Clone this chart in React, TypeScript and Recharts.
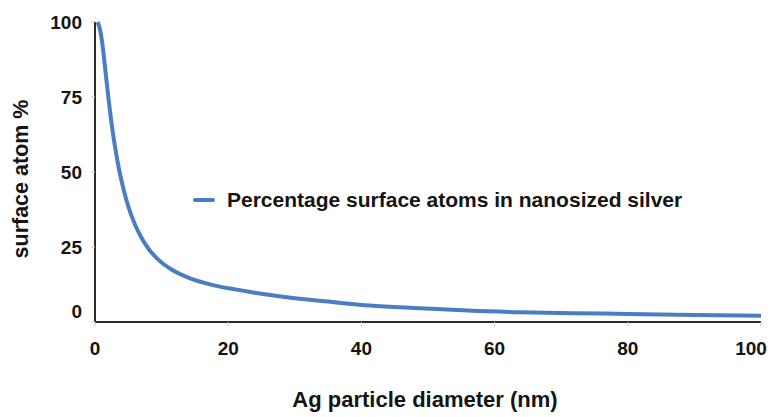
import React from "react";
import { LineChart, Line, XAxis, YAxis } from "recharts";

// Particle diameter (nm) and the matching share of atoms sitting on the surface (%)
const diameters = [0.4, 0.8, 1.2, 1.6, 2, 2.5, 3, 3.6, 4.2, 5, 6, 7, 8, 9.5, 11.5, 14, 17.7, 21.5, 25, 30, 35, 41.3, 48.8, 56, 63.8, 72, 80, 90, 100];
const surfacePct = [100, 97, 91, 83, 75, 66, 58.5, 51, 45, 38.5, 32.5, 28, 24.5, 20.8, 17.5, 14.8, 12.3, 10.7, 9.4, 7.9, 6.8, 5.5, 4.6, 3.8, 3.25, 2.95, 2.7, 2.35, 2.05];

const xTicks = [0, 20, 40, 60, 80, 100];
const yTicks = [0, 25, 50, 75, 100];

const seriesName = "Percentage surface atoms in nanosized silver";
const xTitle = "Ag particle diameter (nm)";
const yTitle = "surface atom %";

const data = diameters.map((d, i) => ({ d, pct: surfacePct[i] }));

const FONT = "'Liberation Sans', Arial, sans-serif";
const TEXT = "#141414";
const BLUE = "#4a7dc4";

const tickStyle = { fontFamily: FONT, fontWeight: 700, fontSize: 19, fill: TEXT };
const titleStyle = { fontFamily: FONT, fontWeight: 700, fontSize: 21.5, fill: TEXT };
const xTitleStyle = { ...titleStyle, fontSize: 22 };

// The last x label is pulled inward so it stays inside the frame
const XTick = ({ x, y, payload }: any) => (
  <text x={payload.value === 100 ? x - 9 : x} y={y} dy="0.71em" textAnchor="middle" style={tickStyle}>
    {payload.value}
  </text>
);

// The zero label sits a little above the baseline
const YTick = ({ x, y, payload }: any) => (
  <text x={x} y={payload.value === 0 ? y - 11 : y} dy="0.355em" textAnchor="end" style={tickStyle}>
    {payload.value}
  </text>
);

export default function App() {
  return (
    <div style={{ position: "absolute", left: 0, top: 0, width: 772, height: 417, background: "#fff" }}>
      <LineChart width={772} height={417} data={data} margin={{ top: 22, right: 11, left: 0, bottom: 0 }}>
        <XAxis
          dataKey="d"
          type="number"
          domain={[0, 100]}
          ticks={xTicks}
          height={95}
          axisLine={{ stroke: "#2a2a2a", strokeWidth: 2 }}
          tickLine={{ stroke: "#c8c8c8", strokeWidth: 1 }}
          tickSize={4}
          tickMargin={16}
          tick={<XTick />}
          label={{
            content: ({ viewBox }: any) => (
              <text x={viewBox.x + viewBox.width / 2 - 3} y={407} textAnchor="middle" style={xTitleStyle}>
                {xTitle}
              </text>
            ),
          }}
        />
        <YAxis
          type="number"
          domain={[0, 100]}
          ticks={yTicks}
          width={95}
          axisLine={{ stroke: "#2a2a2a", strokeWidth: 2 }}
          tickLine={{ stroke: "#c8c8c8", strokeWidth: 1 }}
          tickSize={4}
          tickMargin={9}
          tick={<YTick />}
          label={{
            content: () => (
              <text x={28} y={179} textAnchor="middle" transform="rotate(-90, 28, 179)" style={titleStyle}>
                {yTitle}
              </text>
            ),
          }}
        />
        <Line
          name={seriesName}
          dataKey="pct"
          type="monotone"
          stroke={BLUE}
          strokeWidth={4}
          dot={false}
          isAnimationActive={false}
        />
      </LineChart>
      <div
        style={{
          position: "absolute",
          left: 193,
          top: 187,
          display: "flex",
          alignItems: "center",
          fontFamily: FONT,
          fontWeight: 700,
          fontSize: 21,
          color: TEXT,
          whiteSpace: "nowrap",
          lineHeight: "26px",
        }}
      >
        <span style={{ display: "inline-block", width: 22, height: 4, background: BLUE, borderRadius: 2, marginRight: 12 }} />
        <span>{seriesName}</span>
      </div>
    </div>
  );
}
